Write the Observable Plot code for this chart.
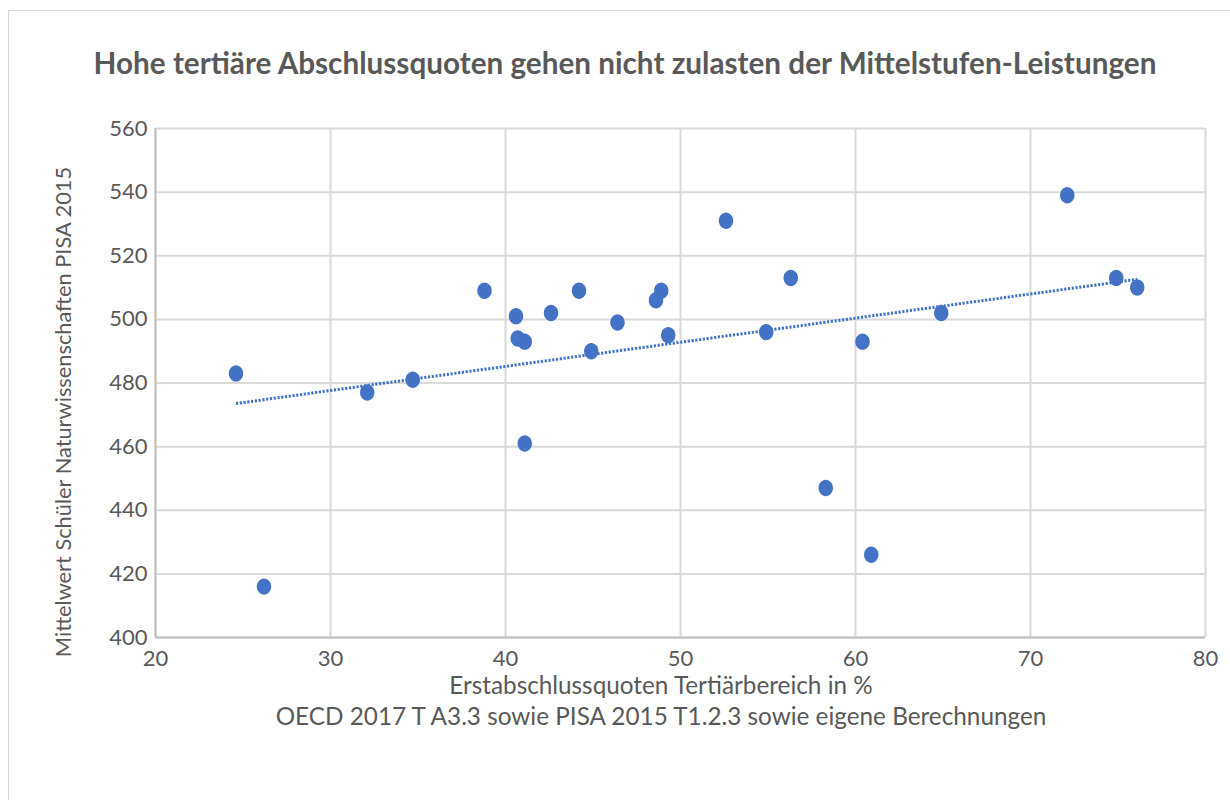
<!DOCTYPE html>
<html>
<head>
<meta charset="utf-8">
<script src="https://cdn.jsdelivr.net/npm/d3@7"></script>
<script src="https://cdn.jsdelivr.net/npm/@observablehq/plot@0.6"></script>
<style>
  html, body { margin: 0; padding: 0; background: #fff; }
  #wrap { position: relative; width: 1230px; height: 800px; overflow: hidden; font-family: Lato, "Open Sans", sans-serif; color: #595959; }
  #frame { position: absolute; left: 8px; top: 10px; width: 1240px; height: 800px; border: 1px solid #d9d9d9; box-sizing: border-box; }
  #title { position: absolute; left: 0; width: 1250px; top: 45px; text-align: center; font-size: 29.7px; font-weight: bold; color: #595959; }
  #chart { position: absolute; left: 0; top: 100px; }
  #ylabel { position: absolute; left: 62px; top: 412px; transform: translate(-50%, -50%) rotate(-90deg); white-space: nowrap; font-size: 21.8px; }
  #xlabel { position: absolute; left: 661px; top: 669px; transform: translateX(-50%); white-space: nowrap; font-size: 24.3px; text-align: center; line-height: 31px; }
</style>
</head>
<body>
<div id="wrap">
  <div id="frame"></div>
  <div id="title">Hohe tertiäre Abschlussquoten gehen nicht zulasten der Mittelstufen-Leistungen</div>
  <div id="chart"></div>
  <div id="ylabel">Mittelwert Schüler Naturwissenschaften PISA 2015</div>
  <div id="xlabel">Erstabschlussquoten Tertiärbereich in %<br>OECD 2017 T A3.3 sowie PISA 2015 T1.2.3 sowie eigene Berechnungen</div>
</div>
<script>
// Tertiary first-time graduation rates (%)
const tertiaryRate = [24.6, 26.2, 32.1, 34.7, 38.8, 40.6, 40.7, 41.1, 41.1, 42.6, 44.2, 44.9, 46.4, 48.6, 48.9, 49.3, 52.6, 54.9, 56.3, 58.3, 60.4, 60.9, 64.9, 72.1, 74.9, 76.1];
// PISA 2015 science mean scores
const pisaScience = [483, 416, 477, 481, 509, 501, 494, 493, 461, 502, 509, 490, 499, 506, 509, 495, 531, 496, 513, 447, 493, 426, 502, 539, 513, 510];
const xTicks = [20, 30, 40, 50, 60, 70, 80];
const yTicks = [400, 420, 440, 460, 480, 500, 520, 540, 560];

const data = tertiaryRate.map((x, i) => ({x, y: pisaScience[i]}));
const blue = "#4472C4";

// slightly tall elliptical marker, like the spreadsheet's
const ellipse = {
  draw(ctx, size) {
    const rx = 7.2, ry = 8.2, k = 0.5523;
    ctx.moveTo(rx, 0);
    ctx.bezierCurveTo(rx, k * ry, k * rx, ry, 0, ry);
    ctx.bezierCurveTo(-k * rx, ry, -rx, k * ry, -rx, 0);
    ctx.bezierCurveTo(-rx, -k * ry, -k * rx, -ry, 0, -ry);
    ctx.bezierCurveTo(k * rx, -ry, rx, -k * ry, rx, 0);
    ctx.closePath();
  }
};

const chart = Plot.plot({
  width: 1230,
  height: 600,
  marginLeft: 155,
  marginRight: 25,
  marginTop: 28,
  marginBottom: 63,
  style: {fontFamily: "Lato, 'Open Sans', sans-serif", fontSize: "22px", color: "#595959", background: "transparent"},
  x: {domain: [20, 80], ticks: xTicks, label: null},
  y: {domain: [400, 560], ticks: yTicks, label: null},
  marks: [
    Plot.gridX(xTicks, {stroke: "#d9d9d9", strokeOpacity: 1, strokeWidth: 2}),
    Plot.gridY(yTicks, {stroke: "#d9d9d9", strokeOpacity: 1, strokeWidth: 2}),
    Plot.ruleX([20], {stroke: "#bfbfbf", strokeWidth: 2}),
    Plot.ruleY([400], {stroke: "#bfbfbf", strokeWidth: 2}),
    Plot.axisX(xTicks, {tickSize: 0, tickPadding: 13, fill: "#595959", fontSize: 22, label: null}),
    Plot.axisY(yTicks, {tickSize: 0, tickPadding: 8, fill: "#595959", fontSize: 22, label: null}),
    Plot.linearRegressionY(data, {x: "x", y: "y", ci: 0, stroke: blue, strokeWidth: 3, strokeDasharray: "2.2,1.6", strokeLinecap: "butt", strokeOpacity: 1}),
    Plot.dot(data, {x: "x", y: "y", symbol: ellipse, r: 8, fill: blue, stroke: null})
  ]
});
document.getElementById("chart").appendChild(chart);
</script>
</body>
</html>
